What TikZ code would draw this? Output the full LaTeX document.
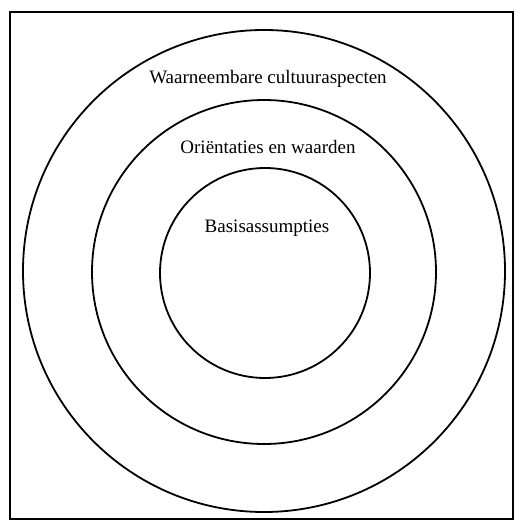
\documentclass[tikz,border=0pt]{standalone}
\usepackage{fontspec}
\setmainfont{Liberation Serif}
\usetikzlibrary{positioning}

\begin{document}
\begin{tikzpicture}[x=1pt, y=-1pt, line width=1.8pt]
    \tikzstyle{ring}=[draw, circle, inner sep=0pt]
    \tikzstyle{lbl}=[font=\fontsize{19}{22}\selectfont, inner sep=0pt]
    \useasboundingbox (0,0) rectangle (518,524);
    \draw (10,12) rectangle (513,519);
    
    \node[ring, minimum size=482pt] (outer) at (264,271) {};
    \node[ring, minimum size=344pt] (middle) at (264,272) {};
    \node[ring, minimum size=210pt] (inner) at (265,273) {};
    
    \node[lbl] (t1) at (268,79) {Waarneembare cultuuraspecten};
    \node[lbl] (t2) at (268,147) {Oriëntaties en waarden};
    \node[lbl] (t3) at (267,228) {Basisassumpties};
\end{tikzpicture}
\end{document}
